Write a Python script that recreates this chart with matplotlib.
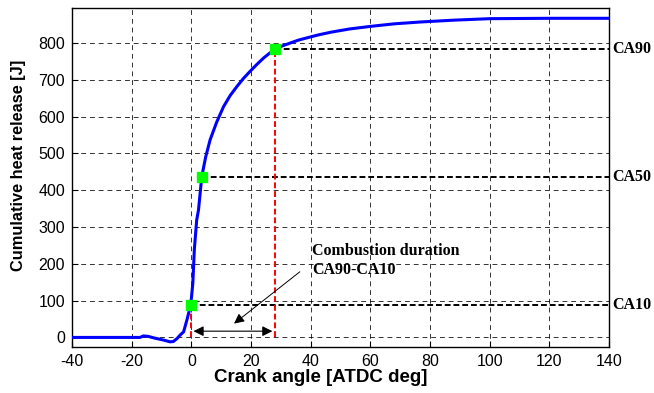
import numpy as np
import matplotlib
matplotlib.use("Agg")
import matplotlib.pyplot as plt

# cumulative heat release vs crank angle
angle = [-40, -30, -20, -17.2, -16.1, -14.5, -12.7, -9.4, -7.1, -6.0, -4.8, -3.8,
         -2.6, -1.5, -0.2, 0.5, 1.0, 1.8, 2.4, 3.5, 4.8, 6.3, 8.5, 10.8, 13.0,
         15.3, 17.5, 19.7, 22.0, 24.2, 26.2, 28.1, 30.5, 33.2, 36.0, 38.8, 42.1,
         46.6, 53.0, 60.0, 68.0, 76.8, 88.0, 100.0, 120.0, 140.0]
heat = [0, 0, 0, 0, 4, 3, -1, -7, -12, -11, -3, 6,
        15, 47, 88, 147, 238, 319, 346, 437, 490, 537, 585, 627, 657,
        682, 704, 723, 742, 759, 772, 783, 792, 800, 808, 814, 821,
        829, 838, 845, 852, 857, 862, 866, 867, 867]

# CA10 / CA50 / CA90 points
ca_names = ["CA10", "CA50", "CA90"]
ca_angle = [-0.2, 3.5, 28.1]
ca_heat = [88, 437, 783]

plt.rcParams['font.family'] = ['Liberation Sans', 'DejaVu Sans']
plt.rcParams['axes.unicode_minus'] = False
fig = plt.figure(figsize=(6.54, 3.93), dpi=100)
ax = fig.add_axes([72/654, 1-347/393, (609-72)/654, (347-8)/393])

ax.plot(angle, heat, color='#0000ff', lw=2.2, zorder=3)

# reference lines to the right edge and down to zero
for name, a, h in zip(ca_names, ca_angle, ca_heat):
    ax.plot([a, 140], [h, h], color='black', ls=(0, (3, 1.5)), lw=1.4, zorder=2)
    ax.text(141.2, h, name, family='Liberation Serif', fontweight='bold',
            fontsize=11.5, va='center', ha='left', clip_on=False)
for i in (0, 2):
    ax.plot([ca_angle[i], ca_angle[i]], [0, ca_heat[i]], color='red',
            ls=(0, (3, 1.5)), lw=1.4, zorder=2)
ax.plot(ca_angle, ca_heat, 's', color='#00ff00', ms=7.5, zorder=4)

# combustion duration arrow
ax.annotate('', xy=(ca_angle[0], 17), xytext=(ca_angle[2], 17),
            arrowprops=dict(arrowstyle='<|-|>', color='black', lw=0.8,
                            mutation_scale=15))
ax.annotate('', xy=(13.6, 33), xytext=(37.1, 183),
            arrowprops=dict(arrowstyle='-|>', color='black', lw=0.7,
                            mutation_scale=15))
ax.text(40.5, 209, "Combustion duration\nCA90-CA10", family='Liberation Serif',
        fontweight='bold', fontsize=11.5, va='center', ha='left',
        linespacing=1.2)

ax.set_xlim(-40, 140)
ax.set_ylim(-26, 895)
ax.set_xticks(np.arange(-40, 141, 20))
ax.set_yticks(np.arange(0, 801, 100))
ax.grid(True, color='black', ls=(0, (5, 4)), lw=0.7, alpha=0.8)
ax.tick_params(direction='in', labelsize=11.5, length=4, width=0.8, pad=5)
for s in ax.spines.values():
    s.set_linewidth(1.0)

ax.set_xlabel("Crank angle [ATDC deg]", fontsize=13.5, fontweight='bold')
ax.set_ylabel("Cumulative heat release [J]", fontsize=11.8, fontweight='bold')
ax.xaxis.set_label_coords(0.463, -0.066)
ax.yaxis.set_label_coords(-0.085, 0.537)

fig.savefig("out.png", dpi=100)
